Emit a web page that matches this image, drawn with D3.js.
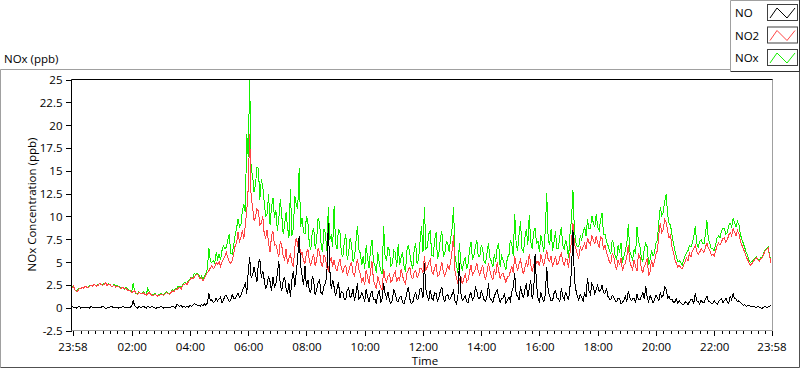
<!DOCTYPE html>
<html>
<head>
<meta charset="utf-8">
<script src="https://cdn.jsdelivr.net/npm/d3@7"></script>
<style>
    body {margin: 0; background: #fff;}
    svg text {font-family: "Segoe UI", "Open Sans", sans-serif; font-size: 11.5px; fill: #000;}
    .trace {fill: none; stroke-width: 1; shape-rendering: crispEdges;}
    .axis path {display: none;}
    .axis line {stroke: #000; shape-rendering: crispEdges;}
</style>
</head>
<body>
<svg id="chart" width="800" height="369"></svg>
<script>
    // one reading every 3 minutes, from 23:58 to 23:58 the next day (one row = one hour)
    let stepMinutes = 3;

    let seriesNames = ["NO", "NO2", "NOx"];
    let seriesColors = ["#000000", "#ff4545", "#14f000"];

    let no = [
        0.1,0.0, 0.0,-0.1, 0.0,0.1, -0.1,0.0, 0.0,-0.1, 0.0,0.0, -0.1,0.1, 0.0,-0.1, 0.0,0.0, -0.1,0.0,
        0.0,0.1, 0.0,-0.1, -0.1,0.0, 0.0,0.1, 0.0,-0.1, 0.0,0.0, -0.1,0.0, 0.0,0.1, 0.0,-0.1, 0.0,0.0,
        0.0,0.1, 0.7,0.2, 0.0,-0.1, 0.1,0.0, 0.0,0.1, 0.0,-0.1, 0.1,0.0, 0.0,0.1, 0.0,-0.1, -0.1,0.0,
        0.0,0.1, 0.0,-0.1, 0.0,0.0, -0.1,0.0, 0.0,0.1, 0.0,-0.1, 0.3,0.2, 0.1,0.2, 0.0,0.1, 0.0,0.1,
        0.0,0.2, 0.1,0.2, 0.4,0.3, 0.2,0.2, 0.1,0.3, 0.1,0.4, 0.2,0.5, 1.5,0.7, 0.8,0.5, 0.6,1.0,
        0.7,0.9, 1.1,0.5, 0.8,1.2, 1.3,0.9, 0.6,0.8, 1.4,1.0, 0.9,1.3, 1.5,1.1, 1.3,1.8, 2.2,2.6,
        1.5,3.8, 5.5,3.2, 3.5,4.4, 3.6,2.8, 4.8,5.3, 3.2,4.0, 3.0,2.0, 2.5,3.4, 2.8,1.8, 3.3,2.2,
        2.5,3.6, 5.1,2.4, 1.8,2.9, 3.3,2.0, 1.5,2.6, 1.1,3.0, 4.0,2.2, 3.8,5.4, 7.8,4.6, 3.5,2.4,
        4.5,2.2, 3.0,1.8, 1.6,3.4, 2.9,1.3, 1.9,2.7, 3.0,1.6, 1.4,2.3, 2.6,3.6, 9.2,4.2, 2.0,3.0,
        2.2,1.2, 2.0,2.8, 1.0,1.7, 1.6,0.9, 0.8,1.9, 2.1,1.0, 1.3,2.0, 0.7,1.5, 2.6,0.9, 1.1,1.6,
        1.2,0.6, 2.0,1.1, 0.6,1.4, 1.8,0.8, 0.9,0.4, 1.4,1.9, 0.5,1.0, 2.6,1.5, 1.0,1.7, 0.7,0.4,
        0.8,1.9, 1.5,0.7, 0.6,1.1, 1.2,0.5, 0.4,0.9, 1.6,2.2, 0.9,0.4, 0.5,1.2, 1.7,0.8, 1.0,2.0,
        2.0,1.0, 4.8,2.0, 1.2,0.7, 1.9,1.0, 0.8,1.6, 1.5,0.6, 1.1,1.8, 2.2,0.9, 0.6,1.3, 1.4,0.8,
        1.0,1.4, 1.8,0.7, 0.4,1.1, 4.8,1.6, 0.7,1.0, 1.2,0.6, 0.5,1.3, 1.6,0.8, 1.0,2.2, 1.8,1.0,
        0.9,1.8, 1.4,0.8, 0.6,1.2, 2.6,1.0, 0.8,0.5, 1.2,1.6, 1.9,1.1, 0.5,0.9, 1.0,1.5, 0.4,0.8,
        1.1,0.7, 1.7,2.2, 3.7,1.4, 1.2,0.8, 2.3,1.5, 1.0,1.9, 2.6,1.1, 2.0,3.0, 0.9,1.6, 5.8,2.4,
        1.0,0.6, 1.6,1.0, 0.6,1.4, 4.4,1.8, 1.2,0.7, 0.7,1.5, 1.8,1.0, 0.9,0.6, 2.1,1.2, 0.8,1.7,
        1.2,0.8, 2.3,4.0, 8.5,3.0, 1.9,1.2, 0.8,1.4, 1.1,0.7, 1.6,1.1, 3.2,1.8, 1.4,2.6, 2.2,1.5,
        2.0,2.4, 1.7,1.9, 2.4,1.6, 1.5,2.1, 1.2,0.9, 0.8,1.3, 1.1,0.7, 0.6,1.0, 1.0,0.4, 0.5,0.8,
        1.2,0.6, 1.8,1.1, 0.7,0.9, 1.0,0.5, 1.4,0.8, 0.8,1.2, 1.6,0.9, 2.3,1.0, 0.6,1.3, 0.9,0.5,
        0.8,1.3, 1.0,0.7, 1.6,1.1, 1.3,2.2, 2.0,1.0, 1.2,0.8, 0.9,0.5, 0.6,0.9, 0.4,0.7, 0.5,0.3,
        0.3,0.6, 0.5,0.3, 0.6,0.9, 0.8,0.4, 1.5,0.7, 0.6,0.3, 0.8,0.5, 0.5,0.9, 1.2,0.6, 0.6,0.4,
        0.4,0.7, 0.5,0.3, 0.6,0.8, 0.9,0.5, 0.7,1.0, 0.6,0.4, 1.2,0.8, 1.5,0.9, 0.9,0.6, 0.7,0.5,
        0.4,0.2, 0.3,0.1, 0.2,0.2, 0.1,0.0, 0.1,0.0, 0.0,0.1, 0.0,-0.1, -0.1,0.0, 0.1,0.0, 0.0,0.1,
        0.2
    ];

    let no2 = [
        2.1,2.3, 1.9,1.7, 1.8,2.0, 2.0,2.2, 2.1,2.3, 2.2,2.1, 2.3,2.4, 2.3,2.5, 2.4,2.3, 2.4,2.6,
        2.5,2.4, 2.5,2.7, 2.4,2.5, 2.5,2.3, 2.3,2.4, 2.2,2.3, 2.3,2.1, 2.1,2.2, 2.0,2.1, 1.9,1.8,
        1.8,1.6, 1.7,1.8, 1.5,1.4, 1.6,1.5, 1.5,1.6, 1.4,1.3, 1.5,1.6, 1.4,1.3, 1.3,1.4, 1.3,1.2,
        1.3,1.4, 1.4,1.3, 1.5,1.6, 1.5,1.4, 1.6,1.8, 1.7,1.9, 1.9,2.1, 2.2,2.0, 2.4,2.5, 2.6,2.5,
        2.8,3.0, 3.2,3.1, 3.3,3.5, 3.6,3.4, 3.1,3.2, 2.9,3.2, 3.5,3.8, 4.0,4.3, 4.6,4.2, 4.4,4.9,
        4.7,5.0, 4.5,4.9, 5.3,5.6, 6.0,5.4, 5.0,4.8, 5.1,5.8, 6.7,7.0, 8.2,7.2, 7.6,8.4, 7.5,9.0,
        10.5,13.0, 19.0,12.0, 11.0,9.5, 9.8,10.8, 10.5,9.0, 9.2,10.0, 8.0,7.6, 8.5,7.0, 6.0,7.8, 8.3,6.8,
        6.9,6.2, 5.5,7.2, 6.8,5.6, 5.2,6.4, 4.7,5.4, 5.8,4.9, 4.4,6.6, 7.6,6.8, 7.3,5.6, 6.0,5.1,
        4.8,5.9, 6.4,5.0, 4.6,5.3, 5.8,4.5, 5.2,6.5, 6.0,4.9, 4.4,5.7, 5.4,4.3, 4.0,5.0, 5.5,4.4,
        5.2,4.3, 4.0,4.8, 5.3,4.2, 3.8,4.4, 4.6,3.5, 3.9,4.6, 4.9,3.7, 3.4,4.5, 5.3,4.1, 3.6,2.8,
        3.2,2.4, 4.1,3.3, 2.6,3.9, 5.0,3.0, 2.5,2.0, 3.4,2.7, 2.2,1.9, 4.2,3.1, 2.8,3.4, 3.6,2.7,
        3.0,3.6, 3.9,2.8, 3.3,3.0, 4.2,3.4, 2.9,2.6, 3.7,4.1, 4.4,3.3, 3.1,3.8, 4.0,3.2, 3.5,4.3,
        4.2,3.8, 5.6,4.1, 4.4,4.9, 5.2,3.9, 3.6,4.3, 4.7,3.4, 3.5,4.2, 4.9,3.8, 3.4,4.0, 4.6,4.1,
        5.0,6.2, 7.9,4.0, 3.2,2.6, 3.0,3.4, 2.5,3.1, 3.6,2.8, 3.0,3.9, 4.6,3.5, 3.8,4.2, 4.8,3.9,
        3.5,4.1, 4.6,3.6, 3.0,3.9, 4.8,4.0, 3.4,3.0, 4.2,3.5, 4.9,4.0, 3.1,3.6, 3.7,3.2, 2.7,3.3,
        3.4,3.9, 4.5,3.7, 5.6,4.6, 4.0,4.8, 5.2,4.3, 3.6,4.4, 5.0,4.4, 5.8,4.7, 3.9,4.5, 5.5,4.8,
        5.0,4.5, 5.8,5.1, 4.6,5.4, 6.2,5.2, 5.0,5.6, 4.4,5.0, 5.6,4.7, 4.8,5.5, 5.9,5.0, 4.6,5.3,
        5.2,4.3, 6.0,7.2, 9.2,7.0, 6.4,5.8, 5.4,6.6, 6.2,6.6, 7.0,6.4, 7.6,7.1, 6.8,7.8, 7.4,6.9,
        7.8,7.0, 6.6,7.7, 7.5,6.3, 6.8,6.1, 5.5,5.0, 4.8,5.9, 5.6,4.6, 4.1,5.2, 4.6,5.4, 4.0,4.6,
        4.8,5.6, 6.8,5.0, 4.5,4.1, 5.2,4.4, 4.0,5.9, 5.5,4.2, 3.8,4.5, 4.8,5.4, 3.4,3.9, 5.2,4.4,
        5.0,5.8, 6.2,8.0, 9.2,8.2, 8.5,9.6, 9.3,8.4, 7.6,7.9, 6.6,6.0, 5.2,4.8, 4.4,4.6, 4.3,4.2,
        4.6,5.0, 5.4,5.1, 5.9,5.5, 6.2,6.4, 6.8,6.1, 5.8,6.0, 6.4,6.2, 6.0,6.6, 7.0,6.5, 6.2,5.7,
        5.8,5.6, 6.2,6.7, 7.0,6.8, 7.2,7.5, 7.6,7.1, 7.4,7.9, 8.2,7.8, 8.6,8.2, 7.8,8.4, 8.0,7.2,
        6.8,6.4, 6.0,5.5, 5.2,4.8, 4.6,4.8, 5.0,5.3, 5.4,5.2, 5.0,5.3, 5.4,5.8, 6.2,6.3, 6.5,5.6,
        4.9
    ];

    let nox = [
        2.2,2.3, 1.9,1.8, 1.9,2.1, 2.0,2.2, 2.2,2.3, 2.2,2.2, 2.4,2.4, 2.3,2.5, 2.4,2.4, 2.5,2.6,
        2.5,2.5, 2.6,2.7, 2.4,2.6, 2.5,2.3, 2.3,2.5, 2.3,2.4, 2.3,2.2, 2.2,2.2, 2.0,2.2, 2.0,1.9,
        1.8,1.7, 2.6,1.8, 1.5,1.5, 1.7,1.5, 1.5,1.7, 1.5,1.3, 2.1,1.7, 1.4,1.4, 1.4,1.5, 1.3,1.3,
        1.4,1.5, 1.4,1.4, 1.6,1.7, 1.5,1.5, 1.7,1.9, 1.8,2.0, 2.1,2.3, 2.3,2.1, 2.4,2.7, 2.7,2.6,
        2.9,3.1, 3.3,3.3, 3.7,3.6, 3.7,3.6, 3.2,3.4, 3.0,3.4, 3.7,4.2, 6.5,5.0, 4.9,5.1, 4.8,6.0,
        5.3,5.8, 5.2,6.2, 6.7,6.4, 6.6,7.4, 8.0,5.9, 5.8,6.8, 7.9,8.6, 9.7,8.8, 9.0,10.6, 11.3,10.4,
        19.0,16.5, 25.0,15.0, 14.5,12.6, 13.4,15.3, 15.2,11.8, 14.0,13.2, 11.5,10.0, 10.2,12.4, 9.0,11.0, 12.0,9.8,
        10.6,8.4, 9.6,11.8, 10.2,8.0, 9.0,10.4, 8.8,7.6, 12.9,7.8, 8.6,12.2, 11.2,10.8, 15.2,8.8, 9.8,8.2,
        8.0,10.0, 9.3,6.8, 6.3,8.2, 8.7,6.4, 7.4,9.8, 9.3,7.0, 6.0,8.6, 8.1,6.2, 11.0,7.4, 7.8,6.6,
        11.1,7.0, 6.4,8.6, 8.2,5.9, 5.5,7.1, 8.0,5.2, 6.0,7.6, 6.8,5.0, 5.4,7.2, 8.9,6.3, 5.9,4.6,
        5.6,4.2, 6.8,5.3, 4.3,6.4, 7.4,5.0, 4.6,3.7, 6.0,4.8, 4.0,3.6, 8.9,5.5, 5.2,6.6, 6.2,4.5,
        4.8,6.2, 6.0,4.4, 6.9,4.6, 5.4,6.0, 4.5,3.9, 6.2,6.8, 5.8,4.8, 4.2,6.3, 7.0,4.7, 5.3,7.2,
        8.9,6.0, 11.0,6.4, 6.6,8.0, 8.4,5.7, 5.6,7.3, 8.2,5.3, 6.0,7.6, 8.3,5.6, 5.8,7.2, 7.0,6.1,
        7.5,8.6, 11.0,5.6, 4.6,3.8, 7.0,4.9, 4.0,5.0, 5.4,4.2, 4.8,6.3, 7.1,5.2, 5.6,6.6, 7.4,5.5,
        5.5,6.8, 6.4,5.0, 4.8,6.0, 7.0,5.4, 5.0,4.4, 5.8,5.0, 6.6,7.0, 4.4,5.6, 5.2,4.6, 4.1,5.5,
        5.6,7.4, 6.9,5.6, 10.2,7.0, 6.2,8.0, 9.4,6.4, 6.0,7.6, 8.6,6.8, 10.1,7.2, 6.4,8.2, 8.7,7.0,
        7.2,6.1, 7.9,7.0, 6.0,8.4, 12.5,7.4, 6.8,8.6, 6.2,7.1, 8.3,6.4, 6.4,7.8, 8.8,6.8, 6.3,7.4,
        6.6,5.4, 8.1,9.6, 12.8,8.4, 7.1,6.6, 6.6,7.8, 7.4,8.2, 8.8,7.8, 9.6,8.6, 8.6,10.0, 9.2,8.8,
        10.2,8.8, 8.4,9.6, 10.3,8.0, 8.0,7.2, 6.8,6.2, 5.8,7.4, 6.9,5.6, 5.2,6.8, 6.0,7.0, 4.9,5.6,
        6.2,7.0, 9.1,6.2, 5.6,5.2, 6.4,5.8, 8.8,7.2, 6.6,5.4, 5.0,6.4, 7.0,6.6, 4.6,5.2, 6.3,5.6,
        6.0,7.0, 7.4,9.4, 11.0,10.0, 10.4,11.6, 12.4,10.2, 9.2,9.0, 7.9,7.0, 6.2,5.6, 5.0,5.1, 4.9,4.6,
        5.2,5.6, 6.0,6.2, 6.7,6.6, 7.0,7.8, 8.9,7.0, 6.6,7.2, 7.4,7.0, 6.9,8.0, 9.5,7.4, 7.0,6.4,
        6.4,6.2, 6.9,7.6, 7.8,7.6, 8.4,8.6, 8.6,8.0, 8.2,9.0, 9.2,8.8, 9.8,9.2, 8.8,9.4, 9.0,8.0,
        7.4,7.0, 6.5,6.0, 5.6,5.1, 4.9,5.0, 5.2,5.4, 5.5,5.3, 5.1,5.4, 5.5,5.9, 6.3,6.4, 6.6,5.7,
        5.0
    ];

    let yTicks = [25, 22.5, 20, 17.5, 15, 12.5, 10, 7.5, 5, 2.5, 0, -2.5];
    let xTickLabels = ["23:58", "02:00", "04:00", "06:00", "08:00", "10:00", "12:00",
        "14:00", "16:00", "18:00", "20:00", "22:00", "23:58"];
    let xTickMinutes = [0, 122, 242, 362, 482, 602, 722, 842, 962, 1082, 1202, 1322, 1440];

    let svg = d3.select("#chart");

    let plot = {left: 71, top: 79, right: 772, bottom: 330};

    let x = d3.scaleLinear().domain([0, 1440]).range([plot.left + 1, plot.right - 1]);
    let y = d3.scaleLinear().domain([-2.5, 25]).range([plot.bottom, plot.top]);

    // outer frame
    svg.append("path").attr("d", "M0.5,367.5 V69.5 H731").attr("fill", "none").attr("stroke", "#a0a0a0");
    svg.append("path").attr("d", "M0.5,367.5 H799.5 V71").attr("fill", "none").attr("stroke", "#505050");

    svg.append("text").attr("x", 4).attr("y", 63).text("NOx (ppb)");

    svg.append("defs").append("clipPath").attr("id", "plot-clip")
        .append("rect")
        .attr("x", plot.left + 1).attr("y", plot.top)
        .attr("width", plot.right - plot.left - 1).attr("height", plot.bottom - plot.top);

    let line = d3.line()
        .x(function(d, i) { return x(i * stepMinutes); })
        .y(function(d) { return y(d); });

    // NOx underneath, NO2 over it, NO on top
    let traces = svg.append("g").attr("clip-path", "url(#plot-clip)");
    [[nox, 2], [no2, 1], [no, 0]].forEach(function(s) {
        traces.append("path")
            .datum(s[0])
            .attr("class", "trace")
            .attr("stroke", seriesColors[s[1]])
            .attr("d", line);
    });

    svg.append("path")
        .attr("d", "M" + (plot.right + 0.5) + "," + plot.top + " V" + (plot.bottom + 0.5) + " H" + plot.left)
        .attr("fill", "none").attr("stroke", "#a0a0a0");
    svg.append("path")
        .attr("d", "M" + (plot.left + 0.5) + "," + (plot.bottom + 0.5) + " V" + (plot.top + 0.5) + " H" + (plot.right + 0.5))
        .attr("fill", "none").attr("stroke", "#000");

    // y axis
    svg.append("g")
        .attr("class", "axis")
        .attr("transform", "translate(" + (plot.left + 0.5) + ",0.5)")
        .call(d3.axisLeft(y).tickValues(yTicks).tickSize(6).tickPadding(3).tickFormat(function(d) { return String(d); }))
        .selectAll("text").attr("dy", "0.35em").style("font-size", "11.5px").style("font-family", "\"Segoe UI\", \"Open Sans\", sans-serif");

    // x axis: minor ticks every 15 minutes, labelled majors every 2 hours
    let minorTicks = d3.range(2, 1440, 15);
    svg.append("g")
        .attr("class", "axis")
        .attr("transform", "translate(0.5," + (plot.bottom + 1) + ")")
        .call(d3.axisBottom(x).tickValues(minorTicks).tickSize(3).tickFormat(""));

    svg.append("g")
        .attr("class", "axis")
        .attr("transform", "translate(0.5," + (plot.bottom + 1) + ")")
        .call(d3.axisBottom(x).tickValues(xTickMinutes).tickSize(5).tickPadding(7)
            .tickFormat(function(d, i) { return xTickLabels[i]; }))
        .selectAll("text").style("font-size", "11.5px").style("font-family", "\"Segoe UI\", \"Open Sans\", sans-serif");

    svg.append("text")
        .attr("x", 425).attr("y", 365)
        .attr("text-anchor", "middle")
        .text("Time");

    svg.append("text")
        .attr("transform", "translate(36," + ((plot.top + plot.bottom) / 2) + ") rotate(-90)")
        .attr("text-anchor", "middle")
        .text("NOx Concentration (ppb)");

    // legend
    let legend = svg.append("g").attr("class", "legend");
    legend.append("path").attr("d", "M730.5,71 V0.5 H799").attr("fill", "none").attr("stroke", "#a0a0a0");
    legend.append("path").attr("d", "M730.5,71.5 H799.5 V0").attr("fill", "none").attr("stroke", "#303030");

    let zig = d3.line();
    seriesNames.forEach(function(name, i) {
        let top = 4 + i * 22.5;
        legend.append("text")
            .attr("x", 735).attr("y", top + 9).attr("dy", "0.35em")
            .text(name);
        legend.append("rect")
            .attr("x", 767.5).attr("y", top + 0.5)
            .attr("width", 30).attr("height", 16)
            .attr("fill", "#fff").attr("stroke", "#404040");
        legend.append("path")
            .attr("d", zig([[770, top + 14], [777, top + 4], [787, top + 14], [795, top + 4]]))
            .attr("fill", "none")
            .attr("stroke", seriesColors[i]);
    });
</script>
</body>
</html>
